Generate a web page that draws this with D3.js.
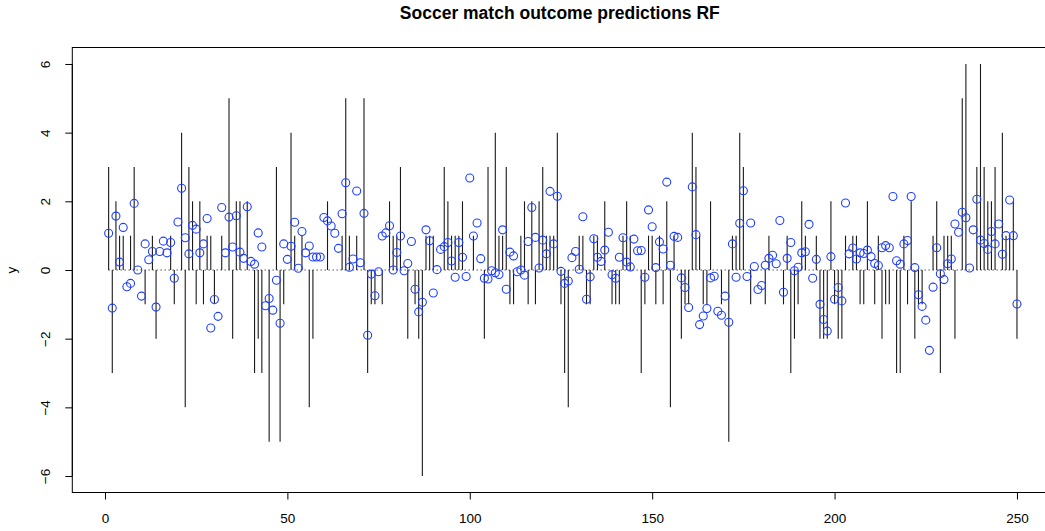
<!DOCTYPE html>
<html>
<head>
<meta charset="utf-8">
<script src="https://cdn.jsdelivr.net/npm/d3@7"></script>
<style>
  html, body { margin: 0; padding: 0; background: #fff; }
  svg { display: block; font-family: "Liberation Sans", Arial, Helvetica, sans-serif; }
</style>
</head>
<body>
<svg id="chart" width="1045" height="531"></svg>
<script>
// Actual goal difference per match (drawn as vertical lines)
const actual = [
  3, -3, 2, 1, 1, 0, 1, 3, 0, 0, -1, 0, 1, -2, 0, 0, 0, 1, -1,
  0, 4, -4, 3, 2, -1, 2, -1, 1, 1, -1, 0, 1, 0, 5, -2, 2, 2, 0, 2,
  0, -3, -2, -3, 0, -5, 0, 3, -5, -1, 0, 4, 1, 0, 1, 0, -4, -2, 0, 0, 0, 2,
  0, 0, 0, 1, 5, 1, 0, 1, 0, 5, -3, -1, -1, 0, -1, 0, 2, 1, 1, 3, 0, -2,
  0, -1, -2, -6, 1, 1, 1, 0, 0, 3, 2, 1, 1, 1, 2, 0, 0, 1, 0, 0, -2,
  3, 0, 4, 1, 1, 3, -1, -1, 0, 1, 2, -1, 2, -1, 2, 3, 1, 1, 1, 4, -1, -3,
  -4, 0, 0, 1, 1, -1, -1, 1, 1, 0, 2, 0, -1, -1, -1, 1, 2, 1, 0, 0, -3,
  -1, 1, 1, -1, 1, -1, 2, -4, 1, 0, -2, -1, -1, 4, 3, 1, -1, -1, 2, 0, 0,
  -1, 0, -5, 1, 1, 4, 3, 0, -1, 0, 0, 0, -1, 1, 0, 0, 0, -1, 1, -3, -2, -1,
  2, 1, 0, 0, 1, -2, -2, -2, 2, -1, -2, -2, 1, 0, 1, 1, -1, -1, 2, 0, -1,
  1, -2, -1, -1, 0, -3, -3, 1, -1, 2, -2, -1, -1, 0, 0, 1, 2, -3, 1, 1, 1, -2,
  0, 5, 6, 0, 0, 3, 6, 3, 2, 2, 3, 0, 4, 1, 1, 2, -2
];

// Random forest predicted goal difference (drawn as open circles)
const predicted = [
  1.07, -1.11, 1.57, 0.23, 1.24, -0.49, -0.39, 1.94, 0.0, -0.76, 0.76, 0.3, 0.54, -1.08, 0.54, 0.84, 0.5, 0.8, -0.24,
  1.40, 2.38, 0.94, 0.47, 1.30, 1.19, 0.5, 0.76, 1.5, -1.69, -0.86, -1.35, 1.82, 0.5, 1.54, 0.67, 1.58, 0.52, 0.34, 1.84,
  0.25, 0.17, 1.08, 0.67, -1.04, -0.83, -1.17, -0.3, -1.55, 0.76, 0.31, 0.69, 1.39, 0.05, 1.12, 0.5, 0.7, 0.38, 0.38, 0.38, 1.53, 1.43,
  1.28, 1.07, 0.63, 1.64, 2.54, 0.08, 0.32, 2.30, 0.21, 1.65, -1.9, -0.12, -0.75, -0.05, 0.99, 1.08, 1.29, 0.0, 0.51, 0.99, -0.02, 0.19,
  0.83, -0.56, -1.22, -0.94, 1.17, 0.85, -0.67, 0.01, 0.6, 0.68, 0.8, 0.26, -0.21, 0.8, 0.37, -0.19, 2.68, 0.99, 1.37, 0.33, -0.24,
  -0.26, -0.02, -0.08, -0.13, 1.17, -0.56, 0.52, 0.41, -0.05, 0.0, -0.15, 0.83, 1.82, 0.95, 0.06, 0.87, 0.47, 2.29, 0.76, 2.15, -0.04, -0.39,
  -0.32, 0.36, 0.54, 0.02, 1.55, -0.85, -0.2, 0.91, 0.37, 0.25, 0.58, 1.1, -0.14, -0.24, 0.37, 0.94, 0.23, 0.09, 0.9, 0.56, 0.57,
  -0.21, 1.75, 1.26, 0.07, 0.82, 0.61, 2.56, 0.14, 0.98, 0.95, -0.23, -0.51, -1.09, 2.42, 1.03, -1.59, -1.34, -1.12, -0.23, -0.18, -1.2,
  -1.32, -0.76, -1.52, 0.76, -0.21, 1.36, 2.31, -0.19, 1.37, 0.1, -0.57, -0.45, 0.14, 0.34, 0.43, 0.18, 1.44, -0.65, 0.34, 0.8, -0.02, 0.08,
  0.5, 0.53, 1.33, -0.24, 0.31, -1.0, -1.44, -1.78, 0.39, -0.85, -0.51, -0.9, 1.95, 0.47, 0.64, 0.32, 0.5, 0.48, 0.58, 0.39, 0.19,
  0.13, 0.65, 0.71, 0.65, 2.14, 0.27, 0.17, 0.76, 0.86, 2.14, 0.07, -0.72, -1.06, -1.46, -2.34, -0.5, 0.65, -0.11, -0.28, 0.18, 0.32, 1.34,
  1.1, 1.68, 1.52, 0.06, 1.17, 2.06, 0.87, 0.77, 0.6, 1.12, 0.76, 1.34, 0.46, 1.0, 2.04, 1.0, -0.99
];

const xTicks = [0, 50, 100, 150, 200, 250];
const yTicks = [-6, -4, -2, 0, 2, 4, 6];
const title = "Soccer match outcome predictions RF";
const yLabel = "y";

const svg = d3.select("#chart");
const n = actual.length;
const idx = d3.range(1, n + 1);

// Plot region extends 4% beyond the data range on each side
const xPad = (n - 1) * 0.04;
const yPad = 12 * 0.04;
const x = d3.scaleLinear().domain([1 - xPad, n + xPad]).range([72.3, 1053.3]);
const y = d3.scaleLinear().domain([-6 - yPad, 6 + yPad]).range([492.5, 47.5]);

const [x0, x1] = x.range();
const [yb, yt] = y.range();

svg.append("rect").attr("width", 1045).attr("height", 531).attr("fill", "#fff");

// Dotted zero reference
svg.append("line")
  .attr("x1", x(1)).attr("x2", x(n))
  .attr("y1", y(0)).attr("y2", y(0))
  .attr("stroke", "#000").attr("stroke-width", 1)
  .attr("stroke-dasharray", "1,3");

// Actual outcomes as vertical lines from zero
svg.append("g").selectAll("line")
  .data(idx)
  .join("line")
  .attr("x1", i => x(i)).attr("x2", i => x(i))
  .attr("y1", y(0)).attr("y2", i => y(actual[i - 1]))
  .attr("stroke", "#1a1a1a").attr("stroke-width", 1.1);

// Predictions as open blue circles
svg.append("g").selectAll("circle")
  .data(idx)
  .join("circle")
  .attr("cx", i => x(i))
  .attr("cy", i => y(predicted[i - 1]))
  .attr("r", 4)
  .attr("fill", "none")
  .attr("stroke", "#1f3fff")
  .attr("stroke-width", 1.1);

// Plot box
svg.append("rect")
  .attr("x", x0).attr("y", yt)
  .attr("width", x1 - x0).attr("height", yb - yt)
  .attr("fill", "none").attr("stroke", "#000").attr("stroke-width", 1);

// X axis
const xAxis = d3.axisBottom(x).tickValues(xTicks).tickSize(7).tickPadding(14).tickSizeOuter(0);
const gx = svg.append("g").attr("transform", `translate(0,${yb})`).call(xAxis);
gx.select(".domain").attr("d", `M${x(0)},0H${x(250)}`);
gx.selectAll("text").attr("font-size", 13.5).attr("fill", "#000")
  .attr("font-family", "Liberation Sans, Arial, sans-serif");

// Y axis with rotated labels
const yAxis = d3.axisLeft(y).tickValues(yTicks).tickSize(7).tickSizeOuter(0);
const gy = svg.append("g").attr("transform", `translate(${x0},0)`).call(yAxis);
gy.select(".domain").attr("d", `M0,${y(-6)}V${y(6)}`);
gy.selectAll("text")
  .attr("font-size", 13.5).attr("fill", "#000")
  .attr("font-family", "Liberation Sans, Arial, sans-serif")
  .attr("x", null).attr("dy", null)
  .attr("text-anchor", "middle")
  .attr("transform", `translate(-22,0) rotate(-90)`);

// Title
svg.append("text")
  .attr("x", (x0 + x1) / 2 - 3).attr("y", 19)
  .attr("text-anchor", "middle")
  .attr("font-size", 17.5).attr("font-weight", "bold")
  .text(title);

// Y axis label
svg.append("text")
  .attr("transform", `translate(16,${y(0)}) rotate(-90)`)
  .attr("text-anchor", "middle")
  .attr("font-size", 13.5)
  .text(yLabel);
</script>
</body>
</html>
